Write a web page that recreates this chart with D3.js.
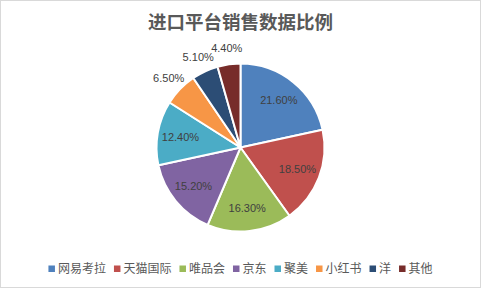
<!DOCTYPE html>
<html>
<head>
<meta charset="utf-8">
<script src="https://cdn.jsdelivr.net/npm/d3@7"></script>
<style>
	body { margin: 0; background: #fff; }
	svg { display: block; }
</style>
</head>
<body>
<svg id="chart" width="482" height="290"></svg>
<script>
// chart data
const title = '进口平台销售数据比例';
const platforms = ['网易考拉', '天猫国际', '唯品会', '京东', '聚美', '小红书', '洋', '其他'];
const shares = [21.6, 18.5, 16.3, 15.2, 12.4, 6.5, 5.1, 4.4];
const colors = ['#4F81BD', '#C0504D', '#9BBB59', '#8064A2', '#4BACC6', '#F79646', '#2C4D75', '#772C2A'];

const width = 482;
const height = 290;
const cx = 240.5;
const cy = 147.5;
const radius = 84;

const svg = d3.select('#chart');

// outer frame
svg.append('rect')
	.attr('x', 0.5).attr('y', 0.5)
	.attr('width', 480).attr('height', 287)
	.attr('fill', '#fff')
	.attr('stroke', '#D9D9D9');

svg.append('text')
	.attr('x', cx)
	.attr('y', 29)
	.attr('text-anchor', 'middle')
	.style('font', 'bold 18.5px "Noto Sans CJK SC", sans-serif')
	.attr('fill', '#595959')
	.text(title);

const data = platforms.map((name, i) => ({ name, value: shares[i], color: colors[i] }));

const pie = d3.pie().sort(null).value(d => d.value);
const arcs = pie(data);

const arc = d3.arc().innerRadius(0).outerRadius(radius);
const innerLabel = d3.arc().innerRadius(61).outerRadius(61);
const outerLabel = d3.arc().innerRadius(100).outerRadius(100);

const g = svg.append('g').attr('transform', `translate(${cx},${cy})`);

g.selectAll('path')
	.data(arcs)
	.enter()
	.append('path')
	.attr('d', arc)
	.attr('fill', d => d.data.color)
	.attr('stroke', '#fff')
	.attr('stroke-width', 2)
	.attr('stroke-linejoin', 'round');

// small slices get their label outside
g.selectAll('text.lbl')
	.data(arcs)
	.enter()
	.append('text')
	.attr('class', 'lbl')
	.attr('transform', d => {
		const p = d.data.value < 10 ? outerLabel.centroid(d) : innerLabel.centroid(d);
		return `translate(${p[0]},${p[1]})`;
	})
	.attr('text-anchor', 'middle')
	.attr('dy', '0.35em')
	.style('font', '11px "Liberation Sans", sans-serif')
	.attr('fill', '#404040')
	.text(d => d.data.value.toFixed(2) + '%');

// legend, laid out from measured text widths and centred
const legend = svg.append('g');
const items = legend.selectAll('g')
	.data(data)
	.enter()
	.append('g');

items.append('rect')
	.attr('width', 6.5).attr('height', 6.5)
	.attr('y', -3.5)
	.attr('fill', d => d.color);

items.append('text')
	.attr('x', 9.5)
	.attr('dy', '0.36em')
	.style('font', '12px "Noto Sans CJK SC", sans-serif')
	.attr('fill', '#595959')
	.text(d => d.name);

let x = 0;
items.each(function () {
	const w = d3.select(this).select('text').node().getComputedTextLength();
	d3.select(this).attr('transform', `translate(${x},0)`);
	x += 9.5 + w + 8;
});
const total = x - 8;
legend.attr('transform', `translate(${cx - total / 2},269)`);
</script>
</body>
</html>
